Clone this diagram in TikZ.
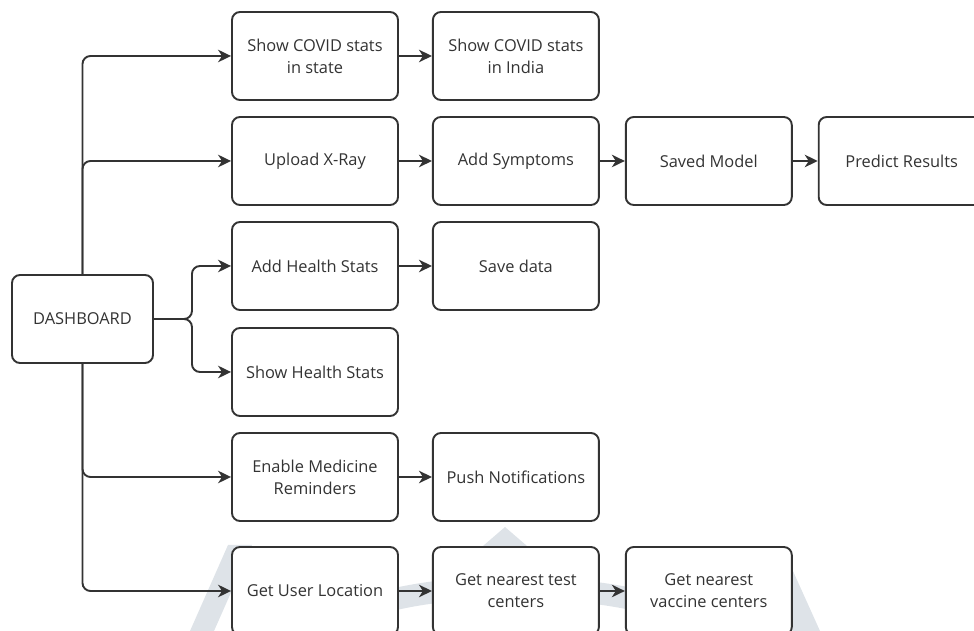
\documentclass[tikz,border=0pt]{standalone}
\usepackage{fontspec}
\setmainfont{Open Sans}
\usetikzlibrary{arrows.meta,positioning}
\definecolor{inkgray}{HTML}{333333}
\definecolor{markgray}{HTML}{DEE3E8}
\tikzset{
flowbox/.style={
  draw=inkgray,
  line width=1.9pt,
  rounded corners=8pt,
  fill=white,
  text=inkgray,
  align=center,
  minimum width=166pt,
  minimum height=88pt,
  inner sep=0pt,
  font=\fontsize{16.4}{22}\selectfont
  },
flowline/.style={
  draw=inkgray,
  line width=1.9pt,
  rounded corners=8pt,
  -{Stealth[length=13pt,width=12.5pt,inset=4pt]}
  }
}

\begin{document}
\begin{tikzpicture}[x=1pt,y=1pt]
\clip (0,0) rectangle (974,631);

% faint watermark behind the boxes
\begin{scope}[markgray]
\fill (190,0) -- (214,0) -- (252,86) -- (228,86) -- cycle;
\fill (505,104) -- (454,60) -- (556,60) -- cycle;
\draw[line width=22pt] (370,25) .. controls (440,48) and (560,50) .. (650,28);
\fill (760,71) -- (788,71) -- (820,0) -- (793,0) -- cycle;
\end{scope}

\node[flowbox, minimum width=141pt] (dash) at (82.5,312) {DASHBOARD};

\node[flowbox] (covst) at (315,575) {Show COVID stats\\in state};
\node[flowbox, right=33pt of covst] (covin) {Show COVID stats\\in India};

\node[flowbox] (xray) at (315,470) {Upload X-Ray};
\node[flowbox, right=33pt of xray] (symp) {Add Symptoms};
\node[flowbox, right=25pt of symp] (model) {Saved Model};
\node[flowbox, right=25pt of model] (pred) {Predict Results};

\node[flowbox] (addh) at (315,365) {Add Health Stats};
\node[flowbox, right=33pt of addh] (save) {Save data};

\node[flowbox] (showh) at (315,259) {Show Health Stats};

\node[flowbox] (remind) at (315,154) {Enable Medicine\\Reminders};
\node[flowbox, right=33pt of remind] (push) {Push Notifications};

\node[flowbox] (loc) at (315,40) {Get User Location};
\node[flowbox, right=33pt of loc] (test) {Get nearest test\\centers};
\node[flowbox, right=25pt of test] (vacc) {Get nearest\\vaccine centers};

% trunk and branches
\coordinate (split) at ([xshift=38pt]dash.east);
\draw[flowline] (dash.north) |- (covst.west);
\draw[flowline] (dash.north) |- (xray.west);
\draw[flowline] (dash.east) -- (split) |- (addh.west);
\draw[flowline] (dash.east) -- (split) |- (showh.west);
\draw[flowline] (dash.south) |- (remind.west);
\draw[flowline] (dash.south) |- (loc.west);

% chains along each row
\draw[flowline] (covst.east) -- (covin.west);
\draw[flowline] (xray.east) -- (symp.west);
\draw[flowline] (symp.east) -- (model.west);
\draw[flowline] (model.east) -- (pred.west);
\draw[flowline] (addh.east) -- (save.west);
\draw[flowline] (remind.east) -- (push.west);
\draw[flowline] (loc.east) -- (test.west);
\draw[flowline] (test.east) -- (vacc.west);

\end{tikzpicture}
\end{document}
